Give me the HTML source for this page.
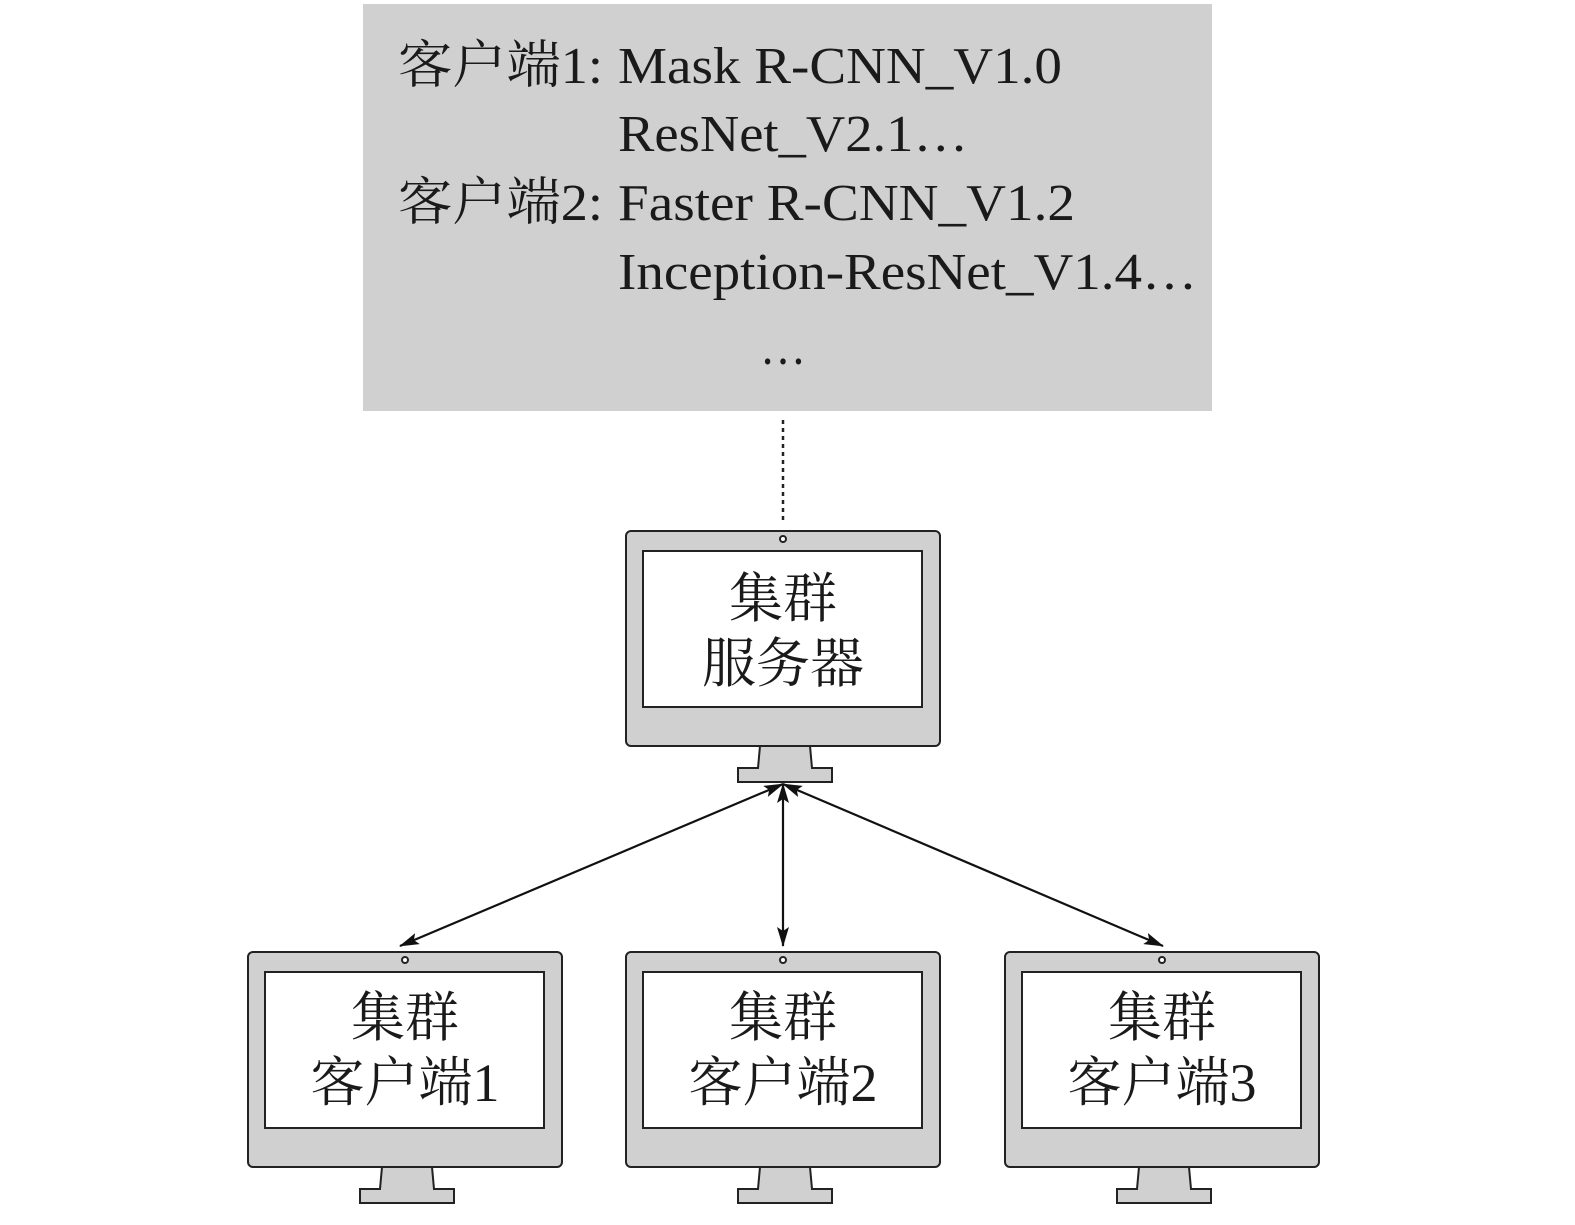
<!DOCTYPE html>
<html><head><meta charset="utf-8"><style>
body{margin:0;background:#fff;width:1575px;height:1220px;overflow:hidden}
svg text{font-family:"Liberation Serif","Noto Serif CJK SC",serif;fill:#1a1a1a}
</style></head><body>
<svg width="1575" height="1220" viewBox="0 0 1575 1220" xmlns="http://www.w3.org/2000/svg">
<defs>
<marker id="b" viewBox="0 0 20 12" refX="19" refY="6" markerWidth="20" markerHeight="12" markerUnits="userSpaceOnUse" orient="auto-start-reverse"><path d="M0,0 L20,6 L0,12 L4,6 Z" fill="#111"/></marker>
<g id="mon">
<rect x="0" y="0" width="314" height="215" rx="5" fill="#d1d0d1" stroke="#222" stroke-width="2"/>
<rect x="17" y="20" width="279" height="156" fill="#fff" stroke="#222" stroke-width="2"/>
<circle cx="157" cy="8" r="3" fill="#fff" stroke="#222" stroke-width="2"/>
<path d="M134,215 L132,237 L112,237 L112,251 L206,251 L206,237 L186,237 L184,215 Z" fill="#d1d0d1" stroke="#222" stroke-width="2"/>
</g>
</defs>
<rect x="363" y="4" width="849" height="407" fill="#d1d0d1"/>
<g font-size="52" lengthAdjust="spacingAndGlyphs">
<text x="398" y="83" textLength="205" lengthAdjust="spacingAndGlyphs">客户端1:</text><text x="618" y="83" textLength="444" lengthAdjust="spacingAndGlyphs">Mask R-CNN_V1.0</text>
<text x="618" y="151" textLength="350" lengthAdjust="spacingAndGlyphs">ResNet_V2.1…</text>
<text x="398" y="220" textLength="205" lengthAdjust="spacingAndGlyphs">客户端2:</text><text x="618" y="220" textLength="457" lengthAdjust="spacingAndGlyphs">Faster R-CNN_V1.2</text>
<text x="618" y="289" textLength="579" lengthAdjust="spacingAndGlyphs">Inception-ResNet_V1.4…</text>
<text x="760" y="364" textLength="46" lengthAdjust="spacingAndGlyphs">…</text>
</g>
<line x1="783" y1="420" x2="783" y2="522" stroke="#222" stroke-width="2.5" stroke-dasharray="4,4"/>
<use href="#mon" x="626" y="531"/>
<use href="#mon" x="248" y="952"/>
<use href="#mon" x="626" y="952"/>
<use href="#mon" x="1005" y="952"/>
<g font-size="54" text-anchor="middle">
<text x="783" y="617">集群</text><text x="783" y="682">服务器</text>
<text x="405" y="1036">集群</text><text x="405" y="1101">客户端1</text>
<text x="783" y="1036">集群</text><text x="783" y="1101">客户端2</text>
<text x="1162" y="1036">集群</text><text x="1162" y="1101">客户端3</text>
</g>
<g stroke="#111" stroke-width="2.2" fill="none">
<line x1="783" y1="784" x2="400" y2="946" marker-start="url(#b)" marker-end="url(#b)"/>
<line x1="783" y1="784" x2="783" y2="946" marker-start="url(#b)" marker-end="url(#b)"/>
<line x1="783" y1="784" x2="1163" y2="946" marker-start="url(#b)" marker-end="url(#b)"/>
</g>
</svg>
</body></html>
